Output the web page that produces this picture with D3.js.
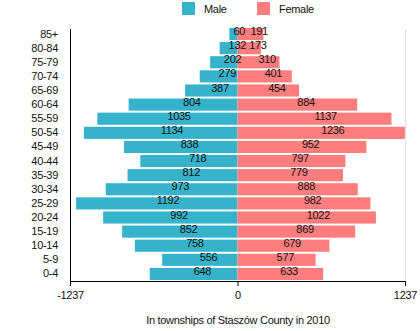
<!DOCTYPE html>
<html>
<head>
<meta charset="utf-8">
<script src="https://cdn.jsdelivr.net/npm/d3@7/dist/d3.min.js"></script>
<style>
  body { margin: 0; background: #fff; }
  text { font-family: "Liberation Sans", Arial, sans-serif; }
</style>
</head>
<body>
<svg id="chart" width="420" height="331"></svg>
<script>
// age groups, youngest first
var ages = ['0-4','5-9','10-14','15-19','20-24','25-29','30-34','35-39','40-44','45-49',
            '50-54','55-59','60-64','65-69','70-74','75-79','80-84','85+'];
var male   = [648, 556, 758, 852, 992, 1192, 973, 812, 718, 838, 1134, 1035, 804, 387, 279, 202, 132, 60];
var female = [633, 577, 679, 869, 1022, 982, 888, 779, 797, 952, 1236, 1137, 884, 454, 401, 310, 173, 191];
var xTicks = [-1237, 0, 1237];
var title = 'In townships of Staszów County in 2010';

var maleColor = '#36b3cb';
var femaleColor = '#ff7d7d';

var svg = d3.select('#chart');
var plotLeft = 70, plotRight = 405, plotTop = 27, plotBottom = 281;

var x = d3.scaleLinear().domain([-1237, 1237]).range([plotLeft, plotRight]);
var y = d3.scaleBand().domain(ages.slice().reverse()).range([plotTop, plotBottom]).paddingInner(0.14).paddingOuter(0.07);

// light frame line on the right
svg.append('line')
  .attr('x1', plotRight + 0.5).attr('x2', plotRight + 0.5)
  .attr('y1', plotTop + 2).attr('y2', plotBottom)
  .attr('stroke', '#e4e4e4');

var rows = ages.map(function (a, i) { return {age: a, m: male[i], f: female[i]}; });

svg.selectAll('rect.m').data(rows).enter().append('rect')
  .attr('class', 'm')
  .attr('x', function (d) { return x(-d.m); })
  .attr('y', function (d) { return y(d.age); })
  .attr('width', function (d) { return x(0) - x(-d.m); })
  .attr('height', y.bandwidth())
  .attr('fill', maleColor);

svg.selectAll('rect.f').data(rows).enter().append('rect')
  .attr('class', 'f')
  .attr('x', x(0))
  .attr('y', function (d) { return y(d.age); })
  .attr('width', function (d) { return x(d.f) - x(0); })
  .attr('height', y.bandwidth())
  .attr('fill', femaleColor);

// value labels start at the middle of each bar
svg.selectAll('text.ml').data(rows).enter().append('text')
  .attr('class', 'ml')
  .attr('x', function (d) { return x(-d.m / 2); })
  .attr('y', function (d) { return y(d.age) + y.bandwidth() / 2 + 1; })
  .attr('font-size', 11).attr('fill', '#111')
  .style('letter-spacing', '-0.3px')
  .text(function (d) { return d.m; });

svg.selectAll('text.fl').data(rows).enter().append('text')
  .attr('class', 'fl')
  .attr('x', function (d) { return x(d.f / 2); })
  .attr('y', function (d) { return y(d.age) + y.bandwidth() / 2 + 1; })
  .attr('font-size', 11).attr('fill', '#111')
  .style('letter-spacing', '-0.3px')
  .text(function (d) { return d.f; });

// axes
var yAxis = svg.append('g')
  .attr('transform', 'translate(' + plotLeft + ',0)')
  .call(d3.axisLeft(y).tickSize(0).tickPadding(12));
yAxis.select('.domain').attr('d', 'M0.5,' + (plotTop + 2) + 'V' + plotBottom).attr('stroke', '#000');
yAxis.selectAll('text').attr('font-size', 11).attr('fill', '#111').style('letter-spacing', '-0.3px').attr('font-family', null);

var xAxis = svg.append('g')
  .attr('transform', 'translate(0,' + plotBottom + ')')
  .call(d3.axisBottom(x).tickValues(xTicks).tickFormat(function (d) { return String(d); })
    .tickSizeOuter(0).tickSize(5).tickPadding(5));
xAxis.select('.domain').attr('stroke', '#000');
xAxis.selectAll('text').attr('font-size', 11).attr('fill', '#111').style('letter-spacing', '-0.3px').attr('font-family', null);

svg.append('text')
  .attr('x', 238).attr('y', 324)
  .attr('text-anchor', 'middle')
  .attr('font-size', 11).attr('fill', '#111')
  .style('letter-spacing', '-0.3px')
  .text(title);

// legend
var legend = [{name: 'Male', color: maleColor, x: 182}, {name: 'Female', color: femaleColor, x: 257}];
var lg = svg.selectAll('g.legend').data(legend).enter().append('g')
  .attr('class', 'legend')
  .attr('transform', function (d) { return 'translate(' + d.x + ',2)'; });
lg.append('rect').attr('width', 13).attr('height', 13).attr('fill', function (d) { return d.color; });
lg.append('text').attr('x', 22).attr('y', 11).attr('font-size', 11).attr('fill', '#111')
  .style('letter-spacing', '-0.3px')
  .text(function (d) { return d.name; });
</script>
</body>
</html>
